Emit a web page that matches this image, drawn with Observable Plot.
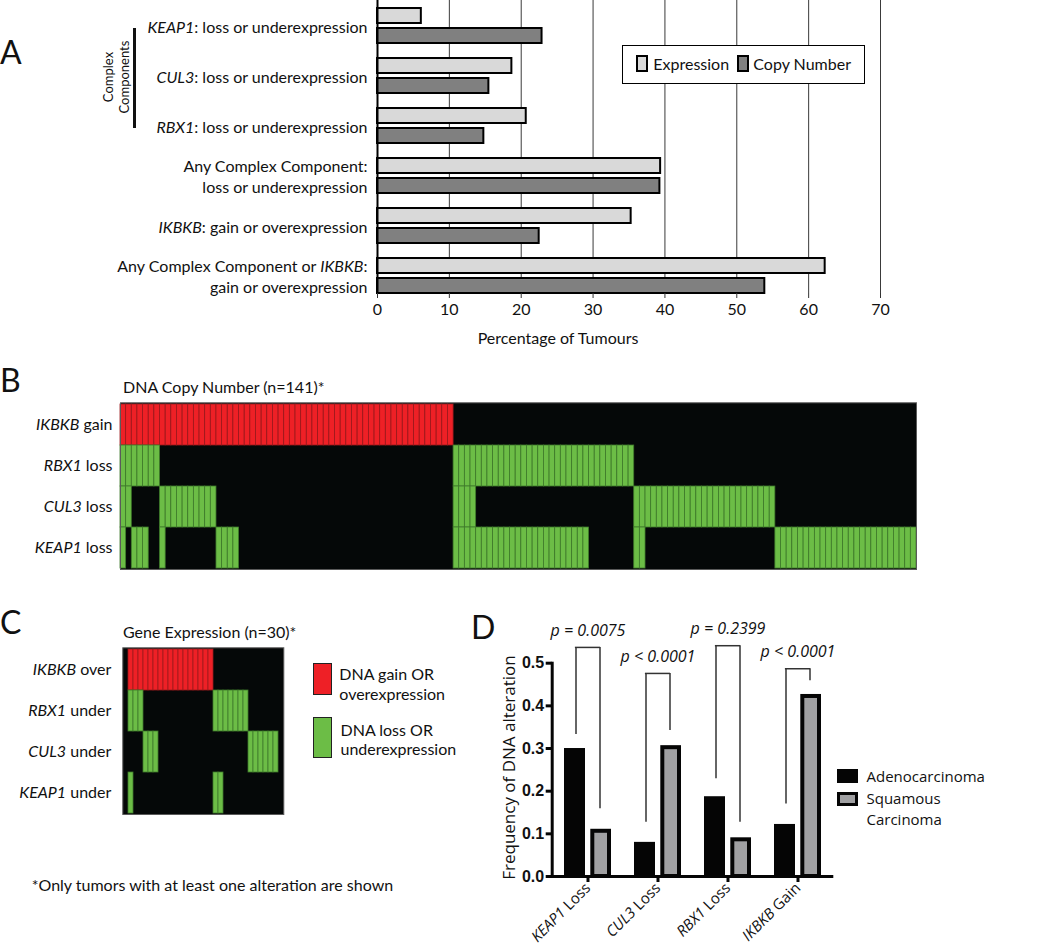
<!DOCTYPE html>
<html><head><meta charset="utf-8">
<script src="https://cdn.jsdelivr.net/npm/d3@7"></script>
<script src="https://cdn.jsdelivr.net/npm/@observablehq/plot@0.6"></script>
<style>
body{margin:0;background:#fff;}
#fig{position:relative;width:1050px;height:949px;font-family:Lato,"Open Sans",sans-serif;color:#111;overflow:hidden;}
.abs{position:absolute;white-space:nowrap;}
</style></head><body><div id="fig"></div>
<script>
// ---------- DATA ----------
// Panel A
const groupsA = [
  "_KEAP1_: loss or underexpression",
  "_CUL3_: loss or underexpression",
  "_RBX1_: loss or underexpression",
  "Any Complex Component:\nloss or underexpression",
  "_IKBKB_: gain or overexpression",
  "Any Complex Component or _IKBKB_:\ngain or overexpression"
];
const expressionPct = [6.1, 18.7, 20.7, 39.4, 35.3, 62.3];
const copyNumberPct = [22.9, 15.5, 14.8, 39.3, 22.5, 53.9];
const xTicksA = [0, 10, 20, 30, 40, 50, 60, 70];

// Panel B (DNA copy number, n = 141) run-length encoded rows: [altered(1)/not(0), number of tumours]
const rowsB = ["_IKBKB_ gain", "_RBX1_ loss", "_CUL3_ loss", "_KEAP1_ loss"];
const runsB = [
  [[1,59],[0,82]],
  [[1,7],[0,52],[1,32],[0,50]],
  [[1,2],[0,5],[1,10],[0,42],[1,4],[0,28],[1,25],[0,25]],
  [[1,1],[0,1],[1,3],[0,2],[1,1],[0,9],[1,4],[0,38],[1,24],[0,8],[1,2],[0,23],[1,25]]
];
const nB = 141;

// Panel C (gene expression, n = 30)
const rowsC = ["_IKBKB_ over", "_RBX1_ under", "_CUL3_ under", "_KEAP1_ under"];
const runsC = [
  [[1,17],[0,13]],
  [[1,3],[0,14],[1,7],[0,6]],
  [[0,3],[1,3],[0,18],[1,6]],
  [[1,1],[0,16],[1,2],[0,11]]
];
const nC = 30;

// Panel D
const categoriesD = ["_KEAP1_ Loss", "_CUL3_ Loss", "_RBX1_ Loss", "_IKBKB_ Gain"];
const adenoFreq = [0.300, 0.080, 0.187, 0.122];
const squamousFreq = [0.106, 0.302, 0.086, 0.422];
const pLabels = ["p = 0.0075", "p < 0.0001", "p = 0.2399", "p < 0.0001"];
const bracketTop = [0.537, 0.476, 0.541, 0.487];
const bracketLeftEnd = [0.333, 0.127, 0.229, 0.170];
const bracketRightEnd = [0.159, 0.342, 0.127, 0.459];
const yTicksD = [0, 0.1, 0.2, 0.3, 0.4, 0.5];

// ---------- HELPERS ----------
const fig = document.getElementById("fig");
const FONT = "Lato, 'Open Sans', sans-serif";
function place(el, left, top) {
  el.style.position = "absolute"; el.style.left = left + "px"; el.style.top = top + "px";
  fig.appendChild(el); return el;
}
function label(text, left, centerY, size, extra = {}) {
  const d = document.createElement("div");
  d.className = "abs"; d.innerHTML = text;
  d.style.fontSize = size + "px"; d.style.lineHeight = size + "px";
  Object.assign(d.style, extra);
  return place(d, left, centerY - size / 2);
}
function box(left, top, w, h, style) {
  const d = document.createElement("div");
  d.className = "abs"; d.style.width = w + "px"; d.style.height = h + "px";
  d.style.boxSizing = "border-box";
  Object.assign(d.style, style);
  return place(d, left, top);
}
function italicize(root) {
  root.querySelectorAll("text").forEach(t => {
    const tsp = [...t.querySelectorAll("tspan")];
    const targets = tsp.length ? tsp : [t];
    targets.forEach(el => {
      const s = el.textContent;
      if (!s.includes("_")) return;
      el.textContent = "";
      s.split("_").forEach((part, i) => {
        if (!part) return;
        const ts = document.createElementNS("http://www.w3.org/2000/svg", "tspan");
        if (i % 2 === 1) ts.setAttribute("font-style", "italic");
        ts.textContent = part;
        el.appendChild(ts);
      });
    });
  });
}
function expand(rows, runs) {
  const cells = [];
  rows.forEach((r, ri) => {
    let c = 0;
    runs[ri].forEach(([v, n]) => {
      for (let k = 0; k < n; k++) cells.push({row: r, col: c++, altered: v === 1, gain: ri === 0});
    });
  });
  return cells;
}

// ---------- PANEL A ----------
const dataA = groupsA.map((g, i) => ({group: g, expr: expressionPct[i], cn: copyNumberPct[i]}));
const plotA = Plot.plot({
  width: 930, height: 350,
  marginLeft: 377, marginRight: 50, marginTop: 0, marginBottom: 57,
  style: {fontFamily: FONT, fontSize: "16px", background: "transparent", overflow: "visible", color: "#111"},
  x: {domain: [0, 70]},
  y: {domain: groupsA, paddingInner: 0.3077, paddingOuter: 0.0768, align: 1},
  marks: [
    Plot.ruleX(xTicksA.slice(1), {stroke: "#3a3a3a", strokeWidth: 1}),
    Plot.barX(dataA, {x: "expr", y: "group", fill: "#d9d9d9", stroke: "#000", strokeWidth: 2, insetBottom: 20}),
    Plot.barX(dataA, {x: "cn", y: "group", fill: "#808080", stroke: "#000", strokeWidth: 2, insetTop: 20}),
    Plot.ruleX([0], {stroke: "#000", strokeWidth: 2}),
    Plot.axisX({ticks: xTicksA, tickSize: 5, tickPadding: 5, stroke: "#333", label: null, fontSize: 16}),
    Plot.axisY({tickSize: 0, tickPadding: 10, label: null, lineHeight: 1.3, fontSize: 16})
  ]
});
italicize(plotA);
place(plotA, 0, 0);

label("A", 0, 52, 32);
label("Percentage of Tumours", 0, 338, 16, {width: "1116px", textAlign: "center", left: "0px"});
// legend A
box(621.7, 45, 243.3, 39.3, {border: "1.5px solid #000", background: "#fff"});
box(636, 55, 12.3, 16.7, {border: "2px solid #000", background: "#d9d9d9"});
label("Expression", 653.3, 64, 16);
box(736.7, 55, 12.3, 16.7, {border: "2px solid #000", background: "#808080"});
label("Copy Number", 753.3, 64, 16);
// Complex components bracket
const cc = label("Complex<br>Components", 65.7, 77, 13, {width: "100px", textAlign: "center", lineHeight: "16px", transform: "rotate(-90deg)"});
cc.style.top = (77 - 16) + "px";
box(132.5, 27.7, 3, 100, {background: "#111"});

// ---------- PANELS B & C (heatmaps) ----------
function heatmap(cells, rows, n, opts) {
  const {labelPad, ...rest} = opts;
  return Plot.plot({
    ...rest,
    style: {fontFamily: FONT, fontSize: "16px", background: "transparent", overflow: "visible", color: "#111"},
    x: {domain: d3.range(n), padding: 0, axis: null},
    y: {domain: rows, padding: 0},
    marks: [
      Plot.frame({fill: "#050808", stroke: null}),
      Plot.cell(cells.filter(d => d.altered && d.gain), {x: "col", y: "row", fill: "#ee2026", stroke: "#9c1a1d", strokeWidth: 0.8, inset: 0}),
      Plot.cell(cells.filter(d => d.altered && !d.gain), {x: "col", y: "row", fill: "#6cbd46", stroke: "#3f7a2b", strokeWidth: 0.8, inset: 0}),
      Plot.frame({stroke: "#5a5a5a", strokeWidth: 1}),
      Plot.axisY({tickSize: 0, tickPadding: labelPad, label: null, fontSize: 16})
    ]
  });
}
const cellsB = expand(rowsB, runsB);
const plotB = heatmap(cellsB, rowsB, nB, {width: 930, height: 180, marginLeft: 120, marginRight: 14, marginTop: 7.3, marginBottom: 6, labelPad: 8});
italicize(plotB);
place(plotB, 0, 395);
label("B", 0, 380, 32);
label("DNA Copy Number (n=141)*", 123, 387, 16);

const cellsC = expand(rowsC, runsC);
const plotC = heatmap(cellsC, rowsC, nC, {width: 300, height: 185, marginLeft: 122.3, marginRight: 16.7, marginTop: 7.3, marginBottom: 11, labelPad: 11.5});
italicize(plotC);
place(plotC, 0, 640);
label("C", 0, 622, 32);
label("Gene Expression (n=30)*", 123, 632, 16);
box(313.3, 662.7, 18.4, 32.3, {border: "1.5px solid #222", background: "#ee2026"});
box(313.3, 716.7, 18.4, 41.6, {border: "1.5px solid #222", background: "#6cbd46"});
label("DNA gain OR", 339.3, 674, 16);
label("overexpression", 339.3, 694.3, 16);
label("DNA loss OR", 340.5, 730, 16);
label("underexpression", 340.5, 748.5, 16);
label("*Only tumors with at least one alteration are shown", 31.7, 885, 16);

// ---------- PANEL D ----------
const dataD = categoriesD.map((c, i) => ({
  cat: c, adeno: adenoFreq[i], squamous: squamousFreq[i], p: pLabels[i],
  top: bracketTop[i], left: bracketLeftEnd[i], right: bracketRightEnd[i]
}));
const FONT_D = "'Open Sans', sans-serif";
const plotD = Plot.plot({
  width: 440, height: 359,
  marginLeft: 131.7, marginRight: 26.7, marginTop: 72.7, marginBottom: 73,
  style: {fontFamily: FONT_D, fontSize: "15px", background: "transparent", overflow: "visible", color: "#111"},
  x: {domain: categoriesD, paddingInner: 0.324, paddingOuter: 0.173},
  y: {domain: [0, 0.5]},
  marks: [
    Plot.barY(dataD, {x: "cat", y: "adeno", fill: "#050505", insetRight: 26}),
    Plot.barY(dataD, {x: "cat", y: "squamous", fill: "#a0a0a2", stroke: "#050505", strokeWidth: 4, insetLeft: 28.3, insetRight: 2}),
    Plot.ruleX(dataD, {x: "cat", y1: "left", y2: "top", dx: -12, stroke: "#333", strokeWidth: 1.5}),
    Plot.ruleX(dataD, {x: "cat", y1: "right", y2: "top", dx: 12, stroke: "#333", strokeWidth: 1.5}),
    Plot.tickY(dataD, {x: "cat", y: "top", insetLeft: 10.9, insetRight: 10.9, stroke: "#333", strokeWidth: 1.5}),
    Plot.text(dataD, {x: "cat", y: "top", text: "p", dy: -17, fontStyle: "italic", fontSize: 16}),
    Plot.ruleY([0], {stroke: "#050505", strokeWidth: 3}),
    Plot.frame({anchor: "left", stroke: "#050505", strokeWidth: 3}),
    Plot.axisY({ticks: yTicksD, tickFormat: ".1f", tickSize: 6, tickPadding: 2, strokeWidth: 3, stroke: "#050505",
      fontWeight: "bold", fontFamily: "'Liberation Sans', Arial, sans-serif", fontSize: 16, label: null}),
    Plot.axisX({tickRotate: -45, tickSize: 6, tickPadding: 3, strokeWidth: 3, stroke: "#050505", label: null, fontSize: 15})
  ]
});
italicize(plotD);
place(plotD, 420, 590);
label("D", 471, 627, 32);
label("Frequency of DNA alteration", 508 - 150, 767.5, 17, {width: "300px", textAlign: "center", transform: "rotate(-90deg)", fontFamily: FONT_D});
box(836.7, 769, 21.6, 13.7, {background: "#050505"});
box(836.7, 791.7, 21.6, 14.3, {border: "3px solid #050505", background: "#a0a0a2"});
label("Adenocarcinoma", 866.5, 776, 15, {fontFamily: FONT_D});
label("Squamous", 866.5, 798.3, 15, {fontFamily: FONT_D});
label("Carcinoma", 866.5, 819.3, 15, {fontFamily: FONT_D});
</script></body></html>
